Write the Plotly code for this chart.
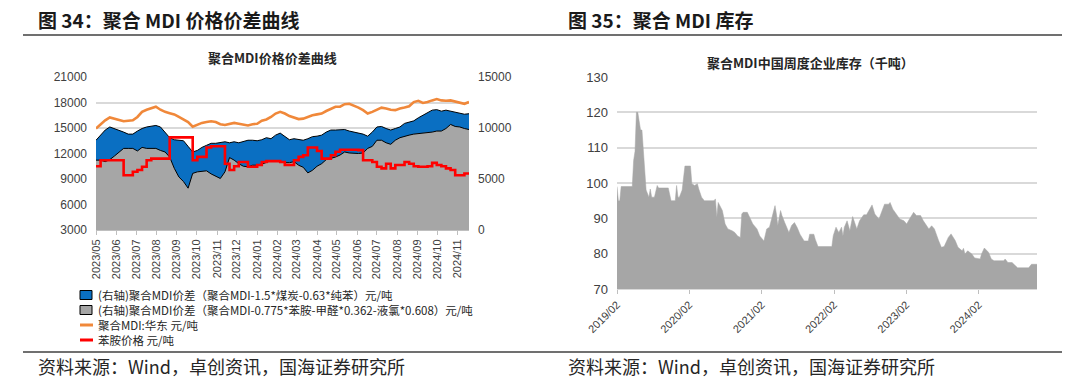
import plotly.graph_objects as go
import pandas as pd

W, H = 1080, 386


def px(x):
    return x / W


def py(y):
    return 1 - y / H


# ---------------- Figure 34 data (weekly) ----------------
spread_dates = pd.date_range('2023-05-01', periods=82, freq='7D')

# (右轴) 聚合MDI-1.5*煤炭-0.63*纯苯, 元/吨
blue_spread = [8800, 9300, 9800, 10100, 9950, 9800, 9600, 9400, 9400, 9700,
               9950, 10100, 10150, 10250, 10100, 9600, 9050, 8850, 8800, 8750,
               8200, 7650, 7800, 8100, 8300, 8500, 8500, 8550, 8650, 8550,
               8650, 8550, 8650, 8800, 8800, 8750, 8850, 9050, 8950, 9300,
               9500, 9200, 8850, 8950, 8850, 8800, 8950, 9150, 9200, 9300,
               9600, 9800, 9800, 9850, 9850, 9700, 9600, 9450, 9400, 9200,
               9600, 10100, 10150, 9950, 9800, 9950, 10100, 10450, 10600, 10700,
               11000, 11250, 11500, 11750, 11800, 11650, 11750, 11650, 11550, 11500,
               11350, 11400]

# (右轴) 聚合MDI-0.775*苯胺-甲醛*0.362-液氯*0.608, 元/吨
gray_spread = [6850, 6850, 6700, 6900, 7250, 7650, 8000, 8000, 8000, 7750,
               8100, 8000, 8000, 8000, 7800, 7650, 7150, 6050, 5200, 4750,
               4100, 5550, 5700, 5750, 5800, 5500, 5300, 5050, 5700, 7100,
               6850, 6500, 6250, 6200, 6350, 6350, 6450, 6600, 6800, 6800,
               6700, 6600, 6600, 6700, 6350, 6150, 5600, 5850, 6250, 6500,
               6900, 7000, 7150, 7350, 7650, 7550, 7500, 7500, 7550, 8000,
               8200, 8800, 8800, 8550, 8400, 8800, 9050, 9200, 9300, 9400,
               9450, 9450, 9500, 9600, 9700, 9700, 9950, 10350, 10150, 10100,
               9950, 9850]

# 聚合MDI:华东, 元/吨
mdi_price = [14950, 15450, 15900, 16250, 16100, 15900, 15800, 15850, 15900, 16300,
             16900, 17150, 17300, 17500, 17150, 16900, 16750, 16600, 16300, 16000,
             15700, 15150, 15350, 15600, 15700, 15800, 15700, 15450, 15350, 15450,
             15600, 15500, 15400, 15300, 15450, 15500, 15850, 16000, 16300, 16700,
             16900, 16700, 16400, 16250, 16050, 16100, 16300, 16500, 16600, 16700,
             17000, 17300, 17500, 17500, 17800, 17850, 17650, 17400, 17100, 16700,
             16900, 17150, 17400, 17300, 17150, 17100, 17300, 17400, 17550, 18050,
             18200, 17950, 18050, 18250, 18400, 18250, 18200, 18250, 18100, 17950,
             17850, 18050]

# 苯胺价格, 元/吨
aniline_price = [10500, 11200, 11200, 11200, 11200, 11200, 9450, 9450, 9850, 10050,
                 10450, 11200, 11400, 11400, 11400, 11400, 13900, 13900, 13900, 13900,
                 13900, 11200, 11600, 11600, 12700, 12850, 12850, 12850, 10800, 10050,
                 10500, 11000, 11000, 10450, 10450, 10650, 11000, 11100, 11100, 11100,
                 11000, 10650, 10650, 11200, 11600, 11800, 12700, 12700, 12300, 11400,
                 11400, 11800, 12200, 12450, 12450, 12450, 12450, 12400, 11200, 11200,
                 11000, 10450, 10250, 10800, 10250, 10650, 10650, 11000, 10800, 10500,
                 10450, 10450, 10500, 10900, 10650, 10500, 10250, 10050, 9450, 9450,
                 9650, 9750]

legend_names = [
    '(右轴)聚合MDI价差（聚合MDI-1.5*煤炭-0.63*纯苯）元/吨',
    '(右轴)聚合MDI价差（聚合MDI-0.775*苯胺-甲醛*0.362-液氯*0.608）元/吨',
    '聚合MDI:华东 元/吨',
    '苯胺价格 元/吨',
]
left_ticks = [3000, 6000, 9000, 12000, 15000, 18000, 21000]
right_ticks = [0, 5000, 10000, 15000]

# ---------------- Figure 35 data (weekly, turning points) ----------------
inv_start = '2019-02-01'
inv_weeks = [0, 1, 2, 3, 11, 12, 13, 14, 15, 16, 17, 18, 19, 20, 21, 23, 24, 25, 27, 29,
             30, 37, 39, 42, 43, 44, 45, 47, 48, 49, 53, 54, 56, 58, 59, 61, 63, 70, 71, 72,
             73, 76, 78, 80, 83, 85, 87, 89, 90, 91, 94, 96, 98, 101, 103, 106, 107, 108, 110, 112,
             114, 115, 116, 118, 119, 121, 124, 126, 128, 130, 132, 135, 138, 139, 142, 143, 145, 155, 156, 158,
             160, 162, 163, 164, 166, 168, 170, 173, 175, 178, 180, 184, 186, 189, 191, 193, 196, 197, 199, 202,
             204, 207, 209, 211, 214, 216, 219, 221, 225, 227, 229, 232, 234, 236, 239, 241, 244, 246, 249, 250,
             251, 253, 256, 258, 262, 263, 265, 268, 270, 272, 279, 280, 282, 285, 287, 289, 297, 299, 303]
inv_values = [99, 95, 95, 99, 99, 106.4, 109, 120, 120, 118, 115, 115, 109, 104.5, 98, 96, 98.3, 96, 96, 99.3,
              98.6, 98.6, 95, 95, 99.3, 96, 96, 98, 100.7, 104.8, 104.8, 99.8, 99.3, 99.8, 98.3, 96, 95, 95, 95.5, 90.3,
              94.5, 92.2, 88.4, 87, 86.5, 86, 85, 84.6, 91.2, 91.7, 91.7, 89.8, 88.4, 87, 85, 83.6, 85.6, 87, 87.5, 90.3,
              93.6, 91.2, 88, 92.2, 90.8, 88.8, 86, 88, 88.8, 87.4, 85.5, 83.6, 83.6, 85.5, 85.5, 84.1, 82, 82, 85.1, 87.5,
              86, 87.5, 85, 87.5, 89.3, 86.5, 90.5, 87, 89.3, 91, 91, 93.8, 91.2, 89.8, 92.2, 94, 94, 94.5, 92.6, 90.8,
              89.8, 89.3, 88.4, 89.8, 91.7, 90.8, 90.8, 89.3, 87, 87.9, 87, 83.7, 81.8, 82, 84.6, 85.6, 83.7, 81.8, 80.8, 81.5,
              79.9, 80.8, 79.9, 78.8, 78.5, 79.9, 81.6, 80.4, 78.5, 78, 78, 78.5, 77.5, 77.5, 76.6, 76, 76, 77, 77]
inv_dates = pd.Timestamp(inv_start) + pd.to_timedelta([7 * w for w in inv_weeks], unit='D')

# ---------------- colours / fonts ----------------
BLUE = '#0A6FC2'
GRAY = '#A6A6A6'
ORANGE = '#F0883A'
RED = '#FF0000'
CJK = 'Noto Sans CJK SC'
LAT = 'Liberation Sans, Arial, sans-serif'

fig = go.Figure()

# Areas (right axis) on primary y, lines (left axis) on overlaying y2 so they draw on top
fig.add_trace(go.Scatter(x=spread_dates, y=blue_spread, name=legend_names[0], mode='lines',
                         fill='tozeroy', fillcolor=BLUE, line=dict(color='black', width=1),
                         xaxis='x', yaxis='y', showlegend=False))
fig.add_trace(go.Scatter(x=spread_dates, y=gray_spread, name=legend_names[1], mode='lines',
                         fill='tozeroy', fillcolor=GRAY, line=dict(color='black', width=1),
                         xaxis='x', yaxis='y', showlegend=False))
fig.add_trace(go.Scatter(x=spread_dates, y=mdi_price, name=legend_names[2], mode='lines',
                         line=dict(color=ORANGE, width=2.6),
                         xaxis='x', yaxis='y2', showlegend=False))
fig.add_trace(go.Scatter(x=spread_dates, y=aniline_price, name=legend_names[3], mode='lines',
                         line=dict(color=RED, width=2.6, shape='hv'),
                         xaxis='x', yaxis='y2', showlegend=False))

fig.add_trace(go.Scatter(x=inv_dates, y=inv_values, name='聚合MDI中国周度企业库存', mode='lines',
                         fill='tozeroy', fillcolor=GRAY, line=dict(color=GRAY, width=0.5),
                         xaxis='x3', yaxis='y3', showlegend=False))

tickfont = dict(family=LAT, size=12, color='#404040')

fig.update_layout(
    width=W, height=H,
    margin=dict(l=0, r=0, t=0, b=0, autoexpand=False),
    paper_bgcolor='white', plot_bgcolor='white',
    showlegend=False,
    xaxis=dict(domain=[px(96), px(469)], anchor='y', type='date', automargin=False,
               range=[spread_dates[0], spread_dates[-1]],
               tick0='2023-05-01', dtick='M1', tickformat='%Y/%m', tickangle=-90,
               ticks='outside', ticklen=4, tickcolor='#BFBFBF',
               showline=True, linecolor='#BFBFBF', linewidth=1, showgrid=False,
               tickfont=dict(family=LAT, size=11, color='#404040')),
    yaxis=dict(domain=[py(230), py(77)], anchor='x', side='right', range=[0, 15000],
               automargin=False, tickformat='d',
               tickvals=right_ticks, showgrid=False, zeroline=False, showline=False,
               ticks='', ticklabelstandoff=8, tickfont=tickfont),
    yaxis2=dict(overlaying='y', anchor='x', side='left', range=[3000, 21000],
                automargin=False, tickformat='d',
                tickvals=left_ticks, showgrid=True, gridcolor='#D9D9D9', gridwidth=1.5,
                zeroline=False, showline=False, ticks='', ticklabelstandoff=8,
                tickfont=tickfont),
    xaxis3=dict(domain=[px(617), px(1037)], anchor='y3', type='date', automargin=False,
                range=[inv_dates[0], inv_dates[-1]],
                tick0='2019-02-01', dtick='M12', tickformat='%Y/%m', tickangle=-45,
                ticks='outside', ticklen=4, tickcolor='#BFBFBF',
                showline=True, linecolor='#D9D9D9', linewidth=1, showgrid=False,
                tickfont=dict(family=LAT, size=11, color='#404040')),
    yaxis3=dict(domain=[py(289), py(77)], anchor='x3', range=[70, 130], dtick=10,
                automargin=False,
                showgrid=True, gridcolor='#D9D9D9', gridwidth=1.5, zeroline=False,
                showline=False, ticks='', ticklabelstandoff=8,
                tickfont=dict(family=LAT, size=13, color='#404040')),
)

shapes = []
annotations = []

# Title rules and source rules
for y in (35, 352):
    shapes.append(dict(type='line', xref='paper', yref='paper', x0=px(23), x1=px(1062),
                       y0=py(y), y1=py(y), line=dict(color='#404040', width=1.5)))

# Figure titles
annotations.append(dict(text='<b>图 34：聚合 MDI 价格价差曲线</b>', xref='paper', yref='paper',
                        x=px(36), y=py(20), xanchor='left', yanchor='middle', showarrow=False,
                        font=dict(family=CJK, size=19, color='#1a1a1a')))
annotations.append(dict(text='<b>图 35：聚合 MDI 库存</b>', xref='paper', yref='paper',
                        x=px(566), y=py(20), xanchor='left', yanchor='middle', showarrow=False,
                        font=dict(family=CJK, size=19, color='#1a1a1a')))

# Chart subtitles
annotations.append(dict(text='<b>聚合MDI价格价差曲线</b>', xref='paper', yref='paper',
                        x=px(272), y=py(58), xanchor='center', yanchor='middle', showarrow=False,
                        font=dict(family=CJK, size=13, color='#262626')))
annotations.append(dict(text='<b>聚合MDI中国周度企业库存（千吨）</b>', xref='paper', yref='paper',
                        x=px(810), y=py(62), xanchor='center', yanchor='middle', showarrow=False,
                        font=dict(family=CJK, size=13, color='#262626')))

# Sources
for x0 in (36, 566):
    annotations.append(dict(text='资料来源：Wind，卓创资讯，国海证券研究所', xref='paper', yref='paper',
                            x=px(x0), y=py(366), xanchor='left', yanchor='middle', showarrow=False,
                            font=dict(family=CJK, size=18, color='#262626')))

# Legend for figure 34 (symbols + text)
leg_y = [295, 310, 325, 340]
for i, name in enumerate(legend_names):
    yc = leg_y[i]
    if i < 2:
        shapes.append(dict(type='rect', xref='paper', yref='paper',
                           x0=px(80), x1=px(92), y0=py(yc + 4.5), y1=py(yc - 4.5),
                           fillcolor=[BLUE, GRAY][i], line=dict(color='black', width=1)))
    else:
        shapes.append(dict(type='line', xref='paper', yref='paper',
                           x0=px(80), x1=px(93), y0=py(yc), y1=py(yc),
                           line=dict(color=[ORANGE, RED][i - 2], width=3)))
    annotations.append(dict(text=name, xref='paper', yref='paper', x=px(97), y=py(yc),
                            xanchor='left', yanchor='middle', showarrow=False, borderpad=0,
                            font=dict(family=CJK, size=11.5, color='#262626')))

fig.update_layout(shapes=shapes, annotations=annotations)

# Remove the browser's default 8px body margin so the figure sits at the page origin
fig.write_html('out.html', config={'displayModeBar': False},
               post_script="document.body.style.margin='0px';")
